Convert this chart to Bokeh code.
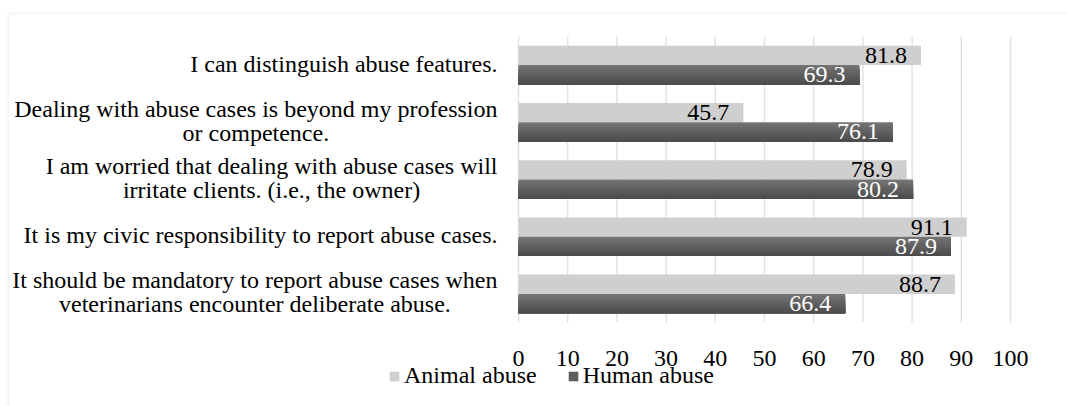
from bokeh.plotting import figure
from bokeh.models import Range1d, Legend, LegendItem, BoxAnnotation, ColumnDataSource
from bokeh.embed import file_html
from bokeh.resources import INLINE
from bokeh.core.properties import value

categories = [
    "I can distinguish abuse features.",
    "Dealing with abuse cases is beyond my profession\nor competence.",
    "I am worried that dealing with abuse cases will\nirritate clients. (i.e., the owner)",
    "It is my civic responsibility to report abuse cases.",
    "It should be mandatory to report abuse cases when\nveterinarians encounter deliberate abuse.",
]
animal_abuse = [81.8, 45.7, 78.9, 91.1, 88.7]
human_abuse = [69.3, 76.1, 80.2, 87.9, 66.4]
series_names = ["Animal abuse", "Human abuse"]
x_ticks = [0, 10, 20, 30, 40, 50, 60, 70, 80, 90, 100]

# ---- layout (pixels) ----
W, H = 1067, 406
X0_PX, X100_PX = 518, 1010          # where 0 and 100 fall
TOP_PX, BOT_PX = 36, 322            # plot area top / bottom
N = len(categories)
UX = (X100_PX - X0_PX) / 100.0      # px per unit
UY = (BOT_PX - TOP_PX) / N          # px per category


def px_x(px):
    return (px - X0_PX) / UX


def px_y(py):
    return 0.5 + (py - TOP_PX) / UY


FONT = "Liberation Serif"
FS = "24px"
LIGHT = "#d0cfd0"
DARK_TOP = (0x74, 0x74, 0x74)
DARK_BOT = (0x4c, 0x4c, 0x4c)
BAR_H = 0.337
GRID = "#dde1e8"

pos = [i + 1 for i in range(N)]
src = ColumnDataSource(dict(
    pos=pos,
    y_a=[p_ - BAR_H / 2 for p_ in pos],
    y_h=[p_ + BAR_H / 2 for p_ in pos],
    animal=animal_abuse,
    human=human_abuse,
    lab_a=["%.1f" % v for v in animal_abuse],
    lab_h=["%.1f" % v for v in human_abuse],
))

p = figure(width=W, height=H, x_range=Range1d(px_x(0), px_x(W)), y_range=Range1d(px_y(H), px_y(0)),
           output_backend="svg", toolbar_location=None, x_axis_location=None, y_axis_location=None,
           min_border=0, min_border_left=0, min_border_right=0, min_border_top=0, min_border_bottom=0)
p.outline_line_color = None
p.background_fill_color = "white"
p.border_fill_color = "white"
p.xgrid.grid_line_color = None
p.ygrid.grid_line_color = None

# chart-area border
p.add_layout(BoxAnnotation(left=px_x(8), right=px_x(1400), top=px_y(13), bottom=px_y(700),
                           fill_alpha=0, line_color="#d9dde3", line_width=2))

# vertical gridlines
p.segment(x0=x_ticks, x1=x_ticks, y0=[0.5] * len(x_ticks), y1=[N + 0.5] * len(x_ticks),
          line_color=GRID, line_width=1.4)

# tick labels
p.text(x=x_ticks, y=[px_y(358)] * len(x_ticks), text=[str(t) for t in x_ticks],
       text_align="center", text_baseline="alphabetic",
       text_font=value(FONT), text_font_size=value(FS), text_color="black")

# bars
ra = p.hbar(y="y_a", right="animal", left=0, height=BAR_H, source=src,
            fill_color=LIGHT, line_color=None)
# dark bars with a vertical gradient: each band spans from its top down to the bar bottom
NB = 12
rh = None
for k in range(NB):
    t = k / (NB - 1)
    col = "#%02x%02x%02x" % tuple(int(round(a + (b - a) * t)) for a, b in zip(DARK_TOP, DARK_BOT))
    top_off = -BAR_H / 2 + k * BAR_H / NB
    h = BAR_H / 2 - top_off
    r = p.hbar(y=[yy + top_off + h / 2 for yy in src.data["y_h"]], right=human_abuse, left=0,
               height=h, fill_color=col, line_color=None)
    if k == NB // 2:
        rh = r

# data labels
p.text(x="animal", y="y_a", text="lab_a", source=src, text_align="right", text_baseline="middle",
       x_offset=-14, text_font=value(FONT), text_font_size=value(FS), text_color="black")
p.text(x="human", y="y_h", text="lab_h", source=src, text_align="right", text_baseline="middle",
       x_offset=-14, text_font=value(FONT), text_font_size=value(FS), text_color="white")

# category labels
p.text(x=[px_x(497)] * N, y=[pp - 1.5 / UY for pp in pos], text=categories, anchor=value("center_right"),
       text_align="center", text_baseline="middle", text_line_height=0.93,
       text_font=value(FONT), text_font_size=value(FS), text_color="black")

legend = Legend(items=[LegendItem(label=series_names[0], renderers=[ra]),
                       LegendItem(label=series_names[1], renderers=[rh])],
                orientation="horizontal", location=(388, 17),
                glyph_width=12, glyph_height=12, label_standoff=4, spacing=30,
                padding=0, margin=0, border_line_color=None, background_fill_alpha=0,
                label_text_font=FONT, label_text_font_size=FS, label_text_color="black")
p.add_layout(legend)

open("out.html", "w").write(file_html(p, INLINE))
